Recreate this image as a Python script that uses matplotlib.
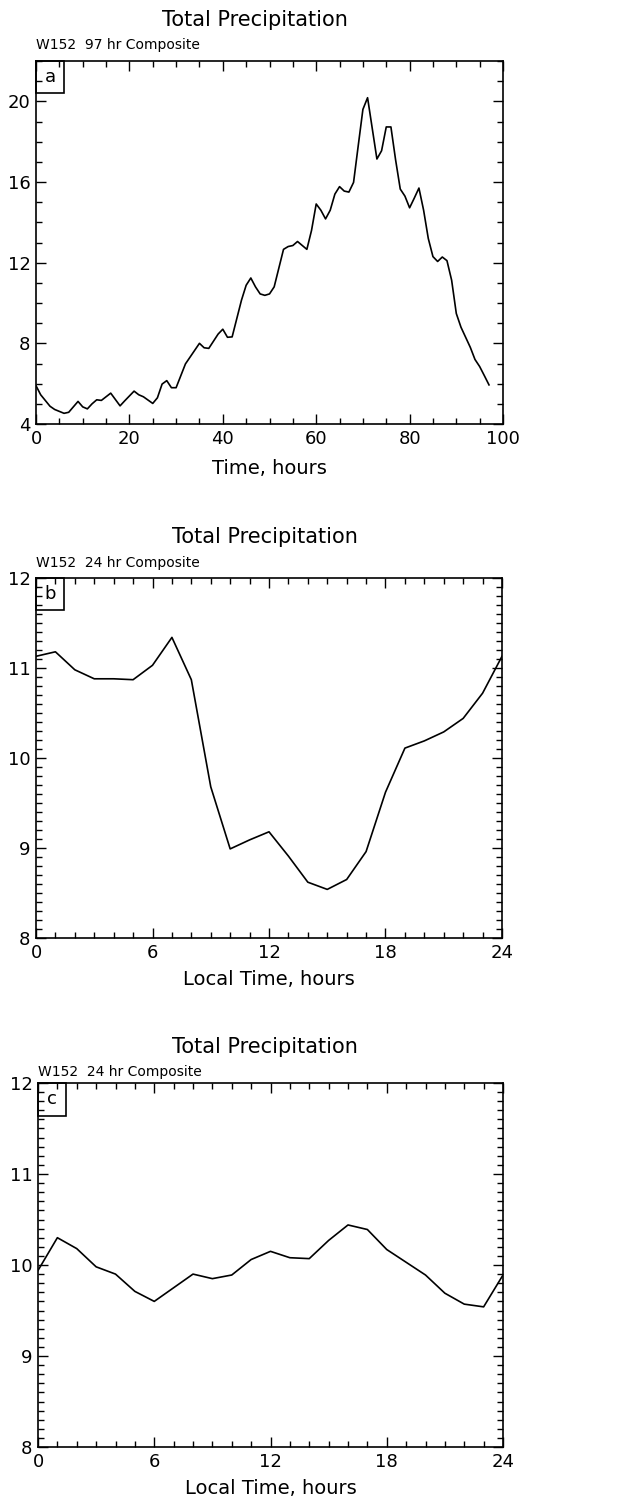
import matplotlib
matplotlib.use('Agg')
import matplotlib.pyplot as plt
from matplotlib.ticker import MultipleLocator
from matplotlib.patches import Rectangle
from matplotlib import font_manager

# ---------------- data ----------------
a_hours = [0, 1, 3, 4, 6, 7, 9, 10, 11, 12, 13, 14, 16, 18, 19, 21, 22, 23, 25, 26,
           27, 28, 29, 30, 32, 35, 36, 37, 39, 40, 41, 42, 44, 45, 46, 47, 48, 49, 50,
           51, 53, 54, 55, 56, 58, 59, 60, 61, 62, 63, 64, 65, 66, 67, 68, 69, 70, 71,
           73, 74, 75, 76, 77, 78, 79, 80, 81, 82, 83, 84, 85, 86, 87, 88, 89, 90, 91,
           92, 93, 94, 95, 96, 97]
a_precip = [5.9, 5.45, 4.88, 4.72, 4.53, 4.58, 5.12, 4.85, 4.75, 5.0, 5.2, 5.17, 5.53,
            4.9, 5.15, 5.63, 5.45, 5.35, 5.02, 5.3, 5.98, 6.15, 5.8, 5.8, 6.98, 8.0,
            7.78, 7.75, 8.46, 8.7, 8.3, 8.32, 10.14, 10.88, 11.24, 10.8, 10.45, 10.38,
            10.45, 10.8, 12.66, 12.8, 12.85, 13.05, 12.66, 13.6, 14.91, 14.6, 14.17,
            14.6, 15.4, 15.77, 15.55, 15.5, 15.98, 17.8, 19.6, 20.18, 17.14, 17.55,
            18.73, 18.73, 17.1, 15.65, 15.3, 14.72, 15.2, 15.7, 14.6, 13.2, 12.3, 12.06,
            12.28, 12.1, 11.13, 9.48, 8.8, 8.3, 7.8, 7.2, 6.85, 6.4, 5.94]

b_hours = list(range(25))
b_precip = [11.13, 11.18, 10.98, 10.88, 10.88, 10.87, 11.03, 11.34, 10.87, 9.68, 8.99,
            9.09, 9.18, 8.91, 8.62, 8.54, 8.65, 8.96, 9.62, 10.11, 10.19, 10.29, 10.44,
            10.72, 11.13]

c_hours = list(range(25))
c_precip = [9.94, 10.30, 10.18, 9.98, 9.90, 9.71, 9.60, 9.75, 9.90, 9.85, 9.89, 10.06,
            10.15, 10.08, 10.07, 10.27, 10.44, 10.39, 10.17, 10.03, 9.89, 9.69, 9.57,
            9.54, 9.89]

title_text = "Total Precipitation"
subtitles = ["W152  97 hr Composite", "W152  24 hr Composite", "W152  24 hr Composite"]
panel_letters = ["a", "b", "c"]
xlabels = ["Time, hours", "Local Time, hours", "Local Time, hours"]

# ---------------- layout ----------------
names = {f.name for f in font_manager.fontManager.ttflist}
FAM = ['Liberation Sans Narrow', 'DejaVu Sans'] if 'Liberation Sans Narrow' in names else ['DejaVu Sans']
plt.rcParams['font.family'] = FAM

W, H = 619, 1500
fig = plt.figure(figsize=(W / 100, H / 100), dpi=100)


def px_axes(l, r, t, b):
    return fig.add_axes([l / W, 1 - b / H, (r - l) / W, (b - t) / H])


def style(ax, xlim, ylim, xmaj, xmin, ymaj, ymin):
    ax.set_xlim(*xlim)
    ax.set_ylim(*ylim)
    ax.xaxis.set_major_locator(MultipleLocator(xmaj))
    ax.xaxis.set_minor_locator(MultipleLocator(xmin))
    ax.yaxis.set_major_locator(MultipleLocator(ymaj))
    ax.yaxis.set_minor_locator(MultipleLocator(ymin))
    ax.tick_params(which='both', direction='in', top=True, right=True, width=1.0)
    ax.tick_params(which='major', length=7, labelsize=13, pad=4)
    ax.tick_params(which='minor', length=4)
    for s in ax.spines.values():
        s.set_linewidth(1.2)


def label_box(ax, letter, wpx, hpx, axw, axh):
    w, h = wpx / axw, hpx / axh
    ax.add_patch(Rectangle((0, 1 - h), w, h, transform=ax.transAxes, fill=False,
                           lw=1.2, ec='black', clip_on=False, zorder=5))
    ax.text(w / 2, 1 - h / 2, letter, transform=ax.transAxes, ha='center', va='center',
            fontsize=13)


# panel a
axa = px_axes(36, 503, 61, 424)
axa.plot(a_hours, a_precip, color='black', lw=1.2)
style(axa, (0, 100), (4, 22), 20, 5, 4, 1)
axa.set_xlabel(xlabels[0], fontsize=14, labelpad=8)
label_box(axa, panel_letters[0], 28, 32, 467, 363)
fig.text(255 / W, 1 - 20 / H, title_text, ha='center', va='center', fontsize=15)
fig.text(36 / W, 1 - 45 / H, subtitles[0], ha='left', va='center', fontsize=10)

# panel b
axb = px_axes(36, 502, 578, 938)
axb.plot(b_hours, b_precip, color='black', lw=1.2)
style(axb, (0, 24), (8, 12), 6, 1, 1, 0.1)
axb.set_xlabel(xlabels[1], fontsize=14, labelpad=6)
label_box(axb, panel_letters[1], 28, 32, 466, 360)
fig.text(265 / W, 1 - 537 / H, title_text, ha='center', va='center', fontsize=15)
fig.text(36 / W, 1 - 563 / H, subtitles[1], ha='left', va='center', fontsize=10)

# panel c
axc = px_axes(38, 503, 1083, 1447)
axc.plot(c_hours, c_precip, color='black', lw=1.2)
style(axc, (0, 24), (8, 12), 6, 1, 1, 0.1)
axc.set_xlabel(xlabels[2], fontsize=14, labelpad=6)
label_box(axc, panel_letters[2], 28, 33, 465, 364)
fig.text(265 / W, 1 - 1047 / H, title_text, ha='center', va='center', fontsize=15)
fig.text(38 / W, 1 - 1072 / H, subtitles[2], ha='left', va='center', fontsize=10)

fig.savefig('out.png', dpi=100)
